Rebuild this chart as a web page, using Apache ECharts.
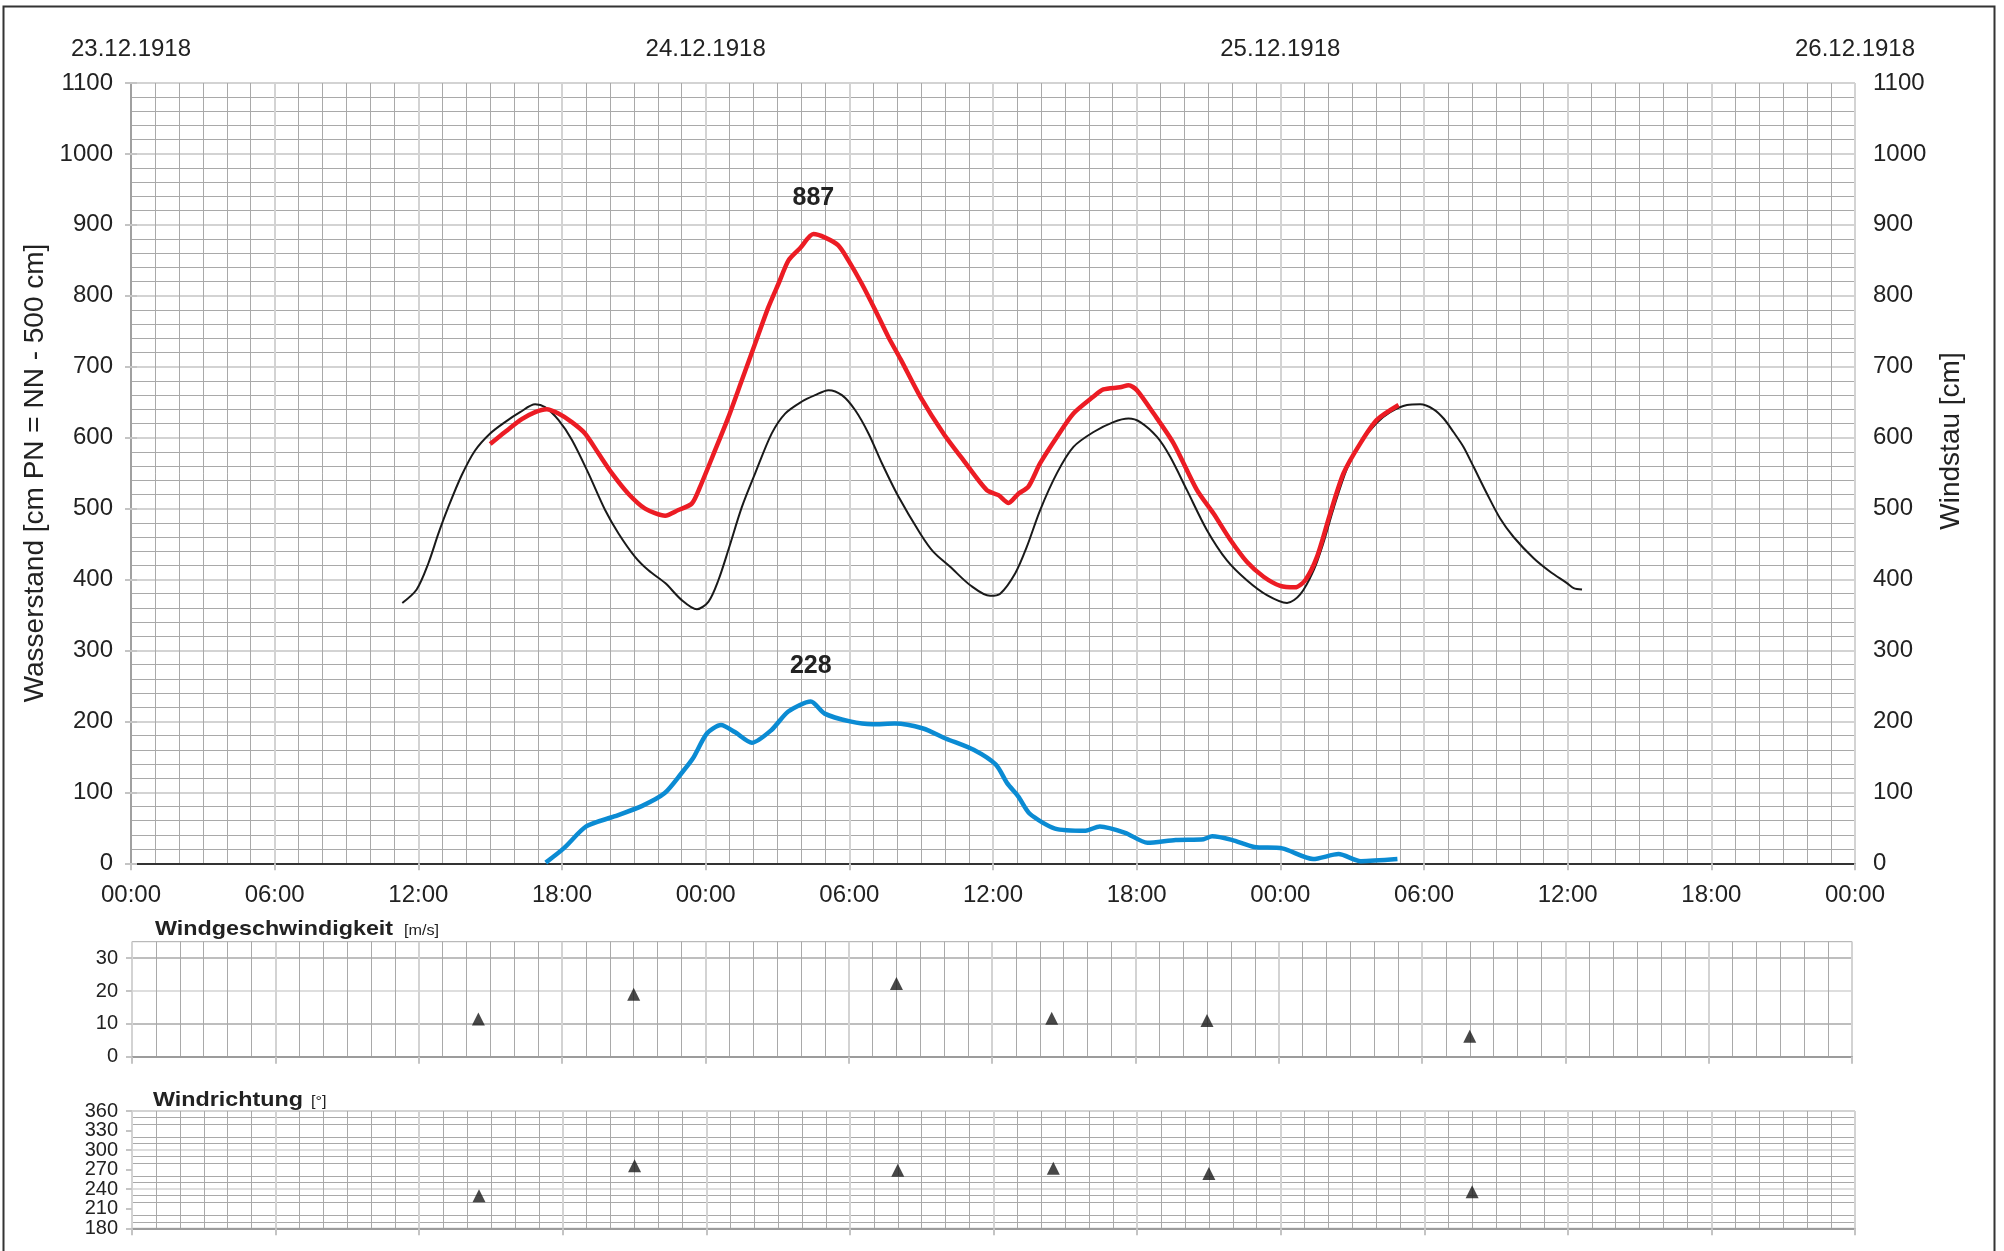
<!DOCTYPE html>
<html>
<head>
<meta charset="utf-8">
<script src="https://cdn.jsdelivr.net/npm/echarts@6/dist/echarts.min.js"></script>
<style>html,body{margin:0;padding:0;background:#fff}#c{width:2004px;height:1251px}</style>
</head>
<body>
<div id="c"></div>
<script>
// hours since 23.12.1918 00:00
const dateLabels = ['23.12.1918', '24.12.1918', '25.12.1918', '26.12.1918'];
const yTicksMain = [0, 100, 200, 300, 400, 500, 600, 700, 800, 900, 1000, 1100];
const speedLabels = [0, 10, 20, 30];
const dirLabelsA = [180, 240, 300, 360];
const dirLabelsB = [210, 270, 330];

// astronomical tide (black) [hour, cm]
const astroTide = [[11.33,367],[11.93,386],[12.42,423],[12.84,465],[13.25,502],[13.81,547],[14.37,582],[15.0,606],[15.62,622],[16.25,636],[16.88,647],[17.29,643],[17.85,625],[18.41,597],[19.1,550],[19.8,498],[20.36,465],[21.05,432],[21.61,413],[22.31,395],[23.0,371],[23.63,358],[24.12,369],[24.53,399],[24.95,442],[25.51,502],[26.07,550],[26.76,606],[27.32,634],[28.02,651],[28.57,660],[29.13,667],[29.69,660],[30.24,639],[30.8,606],[31.36,564],[32.05,517],[32.96,465],[33.51,439],[34.21,418],[35.05,392],[35.88,377],[36.3,380],[36.93,409],[37.41,446],[37.97,498],[38.67,550],[39.36,587],[40.2,608],[41.03,622],[41.66,627],[42.15,622],[42.85,601],[43.4,573],[44.1,526],[44.93,470],[45.77,427],[46.6,399],[47.44,378],[48.28,367],[48.83,379],[49.39,413],[49.8,452],[50.22,500],[50.78,556],[51.34,592],[52.0,620],[52.59,636],[53.29,646],[53.84,647],[54.4,640],[54.82,627],[55.23,608],[55.65,587],[56.07,559],[56.63,521],[57.18,486],[57.74,460],[58.58,430],[59.27,411],[59.97,395],[60.25,388],[60.6,386]];

// observed water level (red) [hour, cm]
const observed = [[15.0,591],[15.62,608],[16.32,626],[16.88,636],[17.36,640],[17.85,634],[18.41,622],[18.96,606],[19.52,578],[20.08,550],[20.77,521],[21.47,500],[22.31,490],[22.86,498],[23.42,507],[23.77,531],[24.39,582],[24.95,629],[25.51,681],[26.07,733],[26.62,784],[27.04,817],[27.46,850],[27.94,867],[28.5,887],[28.99,882],[29.54,871],[29.96,850],[30.52,817],[31.08,780],[31.63,742],[32.15,710],[32.96,658],[33.93,606],[34.77,568],[35.74,526],[36.23,519],[36.65,508],[37.06,521],[37.48,531],[37.97,564],[38.67,601],[39.36,634],[40.2,658],[40.61,668],[41.31,671],[41.66,674],[42.01,667],[42.71,634],[43.54,592],[44.52,526],[45.21,493],[45.91,456],[46.6,425],[47.3,404],[48.0,391],[48.62,389],[49.04,399],[49.53,432],[50.08,493],[50.64,550],[51.34,592],[52.03,625],[52.94,646]];

// wind setup (blue) [hour, cm]
const windstau = [[17.32,1],[18.07,21],[19.01,52],[20.18,66],[21.35,81],[22.29,99],[22.99,127],[23.47,148],[24.05,183],[24.64,195],[25.22,185],[25.93,170],[26.75,188],[27.45,214],[28.39,228],[28.97,211],[30.03,200],[30.96,196],[31.9,197],[33.08,190],[34.02,176],[35.19,160],[36.12,139],[36.59,113],[37.06,94],[37.53,70],[38.59,49],[39.87,46],[40.46,52],[41.52,43],[42.45,29],[43.63,33],[44.8,34],[45.15,38],[45.97,33],[46.91,23],[48.08,21],[49.37,6],[50.43,13],[51.36,3],[52.89,6]];

// wind observations
const windHours = [14.5, 21, 32, 38.5, 45, 56];
const windSpeed = [11.5, 19, 22.3, 11.7, 11, 6.2];
const windDir = [230, 276, 269, 272, 264, 236];

const FONT = "'Liberation Sans', Arial, Helvetica, sans-serif";
const TXT = '#222';
const LIGHT = '#d3d3d3';
const DARK = '#a9a9a9';
const pad = n => (n < 10 ? '0' : '') + n;
const plain = v => String(v);

function peak(arr) {
  let best = arr[0];
  arr.forEach(p => { if (p[1] > best[1]) best = p; });
  return best;
}

function timeAxis(gridIndex, showLabel) {
  return {
    type: 'value', gridIndex, min: 0, max: 72, interval: 6,
    axisLabel: { show: showLabel, fontFamily: FONT, fontSize: 24, color: TXT, margin: 20,
      formatter: v => pad(v % 24) + ':00', showMinLabel: true, showMaxLabel: true },
    axisLine: { show: true, lineStyle: { color: '#9c9c9c', width: 2 } },
    axisTick: { show: true, length: 7, lineStyle: { color: '#c4c4c4', width: 2 } },
    splitLine: { show: true, lineStyle: { color: LIGHT, width: 2 } },
    minorTick: { show: false, splitNumber: 6 },
    minorSplitLine: { show: true, lineStyle: { color: DARK, width: 1 } }
  };
}

function dirLabelAxis(values, withGrid) {
  const ax = {
    type: 'value', gridIndex: 2, position: 'left', min: 180, max: 360, interval: 30,
    axisLabel: { fontFamily: FONT, fontSize: 20, color: TXT, margin: 14,
      customValues: values, formatter: plain, hideOverlap: false,
      showMinLabel: true, showMaxLabel: true },
    axisLine: { show: false },
    axisTick: { show: true, length: 6, customValues: values, lineStyle: { color: '#c4c4c4', width: 2 } },
    splitLine: { show: false }
  };
  if (withGrid) {
    ax.splitLine = { show: true, lineStyle: { color: LIGHT, width: 1.5 } };
    ax.minorTick = { show: false, splitNumber: 3 };
    ax.minorSplitLine = { show: true, lineStyle: { color: DARK, width: 1 } };
  }
  return ax;
}

const obsPeak = peak(observed);
const stauPeak = peak(windstau);
const peakLabel = { show: true, position: 'top', distance: 23, fontFamily: FONT, fontSize: 25,
  fontWeight: 'bold', color: TXT, formatter: p => String(p.value) };

const xAxes = [
  timeAxis(0, true),
  {
    type: 'value', gridIndex: 0, position: 'top', min: 0, max: 72, interval: 24,
    axisLabel: { fontFamily: FONT, fontSize: 24, color: TXT, margin: 22,
      formatter: v => dateLabels[Math.round(v / 24)], showMinLabel: true, showMaxLabel: true },
    axisLine: { show: true, lineStyle: { color: '#333', width: 2 } },
    axisTick: { show: false }, splitLine: { show: false }
  },
  timeAxis(1, false),
  timeAxis(2, false)
];

const yAxes = [
  {
    type: 'value', gridIndex: 0, position: 'left', min: 0, max: 1100, interval: 100,
    axisLabel: { fontFamily: FONT, fontSize: 24, color: TXT, margin: 18, customValues: yTicksMain,
      formatter: plain, showMinLabel: true, showMaxLabel: true },
    axisLine: { show: true, lineStyle: { color: '#9c9c9c', width: 1.5 } },
    axisTick: { show: true, length: 6, lineStyle: { color: '#c4c4c4', width: 2 } },
    splitLine: { show: true, lineStyle: { color: LIGHT, width: 2 } },
    minorTick: { show: false, splitNumber: 5 },
    minorSplitLine: { show: true, lineStyle: { color: DARK, width: 1 } }
  },
  {
    type: 'value', gridIndex: 0, position: 'right', min: 0, max: 1100, interval: 100,
    axisLabel: { fontFamily: FONT, fontSize: 24, color: TXT, margin: 18, customValues: yTicksMain,
      formatter: plain, showMinLabel: true, showMaxLabel: true },
    axisLine: { show: true, lineStyle: { color: '#9c9c9c', width: 1.5 } },
    axisTick: { show: true, length: 6, lineStyle: { color: '#c4c4c4', width: 2 } },
    splitLine: { show: false }
  },
  {
    type: 'value', gridIndex: 1, min: 0, max: 35, interval: 5,
    axisLabel: { fontFamily: FONT, fontSize: 20, color: TXT, margin: 14,
      customValues: speedLabels, formatter: plain, hideOverlap: false, showMinLabel: true },
    axisLine: { show: false },
    axisTick: { show: true, length: 6, customValues: speedLabels, lineStyle: { color: '#c4c4c4', width: 2 } },
    splitLine: { show: true, lineStyle: { color: [LIGHT, DARK], width: 1.5 } }
  },
  dirLabelAxis(dirLabelsA, true),
  dirLabelAxis(dirLabelsB, false)
];

const option = {
  animation: false,
  backgroundColor: '#fff',
  textStyle: { fontFamily: FONT },
  grid: [
    { left: 131, right: 149, top: 83, height: 780.3, show: false },
    { left: 132, right: 152, top: 941.7, height: 115, show: true, borderColor: DARK, borderWidth: 1 },
    { left: 132, right: 149, top: 1111, height: 117.3, show: true, borderColor: DARK, borderWidth: 1 }
  ],
  xAxis: xAxes,
  yAxis: yAxes,
  series: [
    { name: 'Astro', type: 'line', xAxisIndex: 0, yAxisIndex: 0, data: astroTide, showSymbol: false,
      smooth: 0.3, lineStyle: { color: '#1a1a1a', width: 2 }, z: 3 },
    { name: 'Wasserstand', type: 'line', xAxisIndex: 0, yAxisIndex: 0, data: observed, showSymbol: false,
      smooth: 0.25, lineStyle: { color: '#ec1c24', width: 4.5 }, z: 4,
      markPoint: { symbol: 'circle', symbolSize: 0, label: peakLabel,
        data: [{ coord: obsPeak, value: obsPeak[1] }] } },
    { name: 'Windstau', type: 'line', xAxisIndex: 0, yAxisIndex: 1, data: windstau, showSymbol: false,
      smooth: 0.25, lineStyle: { color: '#0b8bd3', width: 4.5 }, z: 4,
      markPoint: { symbol: 'circle', symbolSize: 0, label: peakLabel,
        data: [{ coord: stauPeak, value: stauPeak[1] }] } },
    { name: 'Windgeschwindigkeit', type: 'scatter', xAxisIndex: 2, yAxisIndex: 2,
      data: windHours.map((h, i) => [h, windSpeed[i]]), symbol: 'triangle', symbolSize: [13, 13],
      itemStyle: { color: '#1a1a1a' } },
    { name: 'Windrichtung', type: 'scatter', xAxisIndex: 3, yAxisIndex: 3,
      data: windHours.map((h, i) => [h, windDir[i]]), symbol: 'triangle', symbolSize: [13, 13],
      itemStyle: { color: '#1a1a1a' } }
  ],
  graphic: [
    { type: 'rect', shape: { x: 3.5, y: 6.5, width: 1991, height: 1300 },
      style: { fill: 'none', stroke: '#333', lineWidth: 2 }, silent: true, z: 100 },
    { type: 'text', x: 35, y: 473, rotation: Math.PI / 2,
      style: { text: 'Wasserstand [cm PN = NN - 500 cm]', font: '28px ' + FONT, fill: TXT,
        align: 'center', verticalAlign: 'middle' } },
    { type: 'text', x: 1951, y: 441, rotation: Math.PI / 2,
      style: { text: 'Windstau [cm]', font: '28px ' + FONT, fill: TXT,
        align: 'center', verticalAlign: 'middle' } },
    { type: 'text', x: 155, y: 929, scaleX: 1.11,
      style: { text: 'Windgeschwindigkeit', font: 'bold 21px ' + FONT, fill: TXT,
        align: 'left', verticalAlign: 'middle' } },
    { type: 'text', x: 404, y: 931, scaleX: 1.08,
      style: { text: '[m/s]', font: '15px ' + FONT, fill: TXT, align: 'left', verticalAlign: 'middle' } },
    { type: 'text', x: 153, y: 1100, scaleX: 1.11,
      style: { text: 'Windrichtung', font: 'bold 21px ' + FONT, fill: TXT,
        align: 'left', verticalAlign: 'middle' } },
    { type: 'text', x: 311, y: 1102, scaleX: 1.08,
      style: { text: '[°]', font: '15px ' + FONT, fill: TXT, align: 'left', verticalAlign: 'middle' } }
  ]
};

const chart = echarts.init(document.getElementById('c'), null, { renderer: 'canvas', width: 2004, height: 1251 });
chart.setOption(option);
</script>
</body>
</html>
